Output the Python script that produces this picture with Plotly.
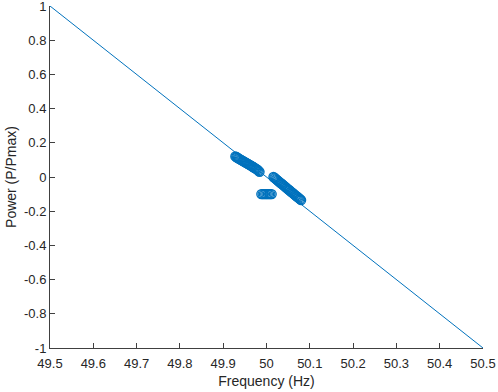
import plotly.graph_objects as go

# Droop characteristic line
line_f = [49.5, 50.5]
line_p = [1.0, -1.0]

# Cluster 1 of operating points
c1_f = [49.928, 49.930, 49.932, 49.934, 49.936, 49.938, 49.940, 49.942, 49.944,
        49.946, 49.948, 49.950, 49.952, 49.954, 49.956, 49.958, 49.960, 49.962,
        49.964, 49.966, 49.968, 49.970, 49.972, 49.974, 49.976, 49.978, 49.980,
        49.982, 49.984]
c1_p = [0.120, 0.117, 0.114, 0.111, 0.108, 0.105, 0.102, 0.099, 0.096,
        0.093, 0.090, 0.087, 0.084, 0.081, 0.078, 0.075, 0.072, 0.069,
        0.066, 0.063, 0.060, 0.057, 0.054, 0.051, 0.048, 0.045, 0.040,
        0.035, 0.030]

# Cluster 2
c2_f = [50.016, 50.018, 50.020, 50.022, 50.024, 50.026, 50.028, 50.030, 50.032,
        50.034, 50.036, 50.038, 50.040, 50.042, 50.044, 50.046, 50.048, 50.050,
        50.052, 50.054, 50.056, 50.058, 50.060, 50.062, 50.064, 50.066, 50.068,
        50.070, 50.072, 50.074, 50.076, 50.078, 50.080]
c2_p = [0.000, -0.004, -0.008, -0.013, -0.017, -0.021, -0.025, -0.030, -0.034,
        -0.038, -0.042, -0.046, -0.051, -0.055, -0.059, -0.063, -0.068, -0.072,
        -0.076, -0.080, -0.085, -0.089, -0.093, -0.097, -0.101, -0.106, -0.110,
        -0.114, -0.118, -0.122, -0.127, -0.131, -0.135]

# Cluster 3 (horizontal)
c3_f = [49.988, 49.991, 49.994, 49.997, 50.000, 50.003, 50.006, 50.009, 50.012]
c3_p = [-0.1, -0.1, -0.1, -0.1, -0.1, -0.1, -0.1, -0.1, -0.1]

x_ticks = [49.5, 49.6, 49.7, 49.8, 49.9, 50.0, 50.1, 50.2, 50.3, 50.4, 50.5]
x_labels = ["49.5", "49.6", "49.7", "49.8", "49.9", "50", "50.1", "50.2", "50.3", "50.4", "50.5"]
y_ticks = [1, 0.8, 0.6, 0.4, 0.2, 0, -0.2, -0.4, -0.6, -0.8, -1]
y_labels = ["1", "0.8", "0.6", "0.4", "0.2", "0", "-0.2", "-0.4", "-0.6", "-0.8", "-1"]

blue = "#0072BD"
font_family = "Liberation Sans, Arial"
fig = go.Figure()
fig.add_trace(go.Scatter(x=line_f, y=line_p, mode="lines",
                         line=dict(color=blue, width=1), showlegend=False))
for fx, py in [(c1_f, c1_p), (c2_f, c2_p), (c3_f, c3_p)]:
    fig.add_trace(go.Scatter(x=fx, y=py, mode="markers", showlegend=False,
                             marker=dict(symbol="circle-open", size=9,
                                         color=blue, line=dict(width=1.3, color=blue))))

axis_common = dict(showline=True, linecolor="#404040", linewidth=1, mirror=False,
                   ticks="inside", ticklen=5, tickcolor="#404040", showgrid=False,
                   zeroline=False, automargin=False, ticklabeloverflow="allow",
                   tickfont=dict(family=font_family, size=13, color="#262626"))
fig.update_xaxes(range=[49.5, 50.5], tickvals=x_ticks, ticktext=x_labels,
                 ticklabelstandoff=3,
                 title=dict(text="Frequency (Hz)", font=dict(family=font_family, size=14, color="#262626"), standoff=6),
                 **axis_common)
fig.update_yaxes(range=[-1, 1], tickvals=y_ticks, ticktext=y_labels,
                 title=dict(text="Power (P/Pmax)", font=dict(family=font_family, size=14, color="#262626"), standoff=4),
                 **axis_common)
fig.update_layout(width=498, height=392, margin=dict(l=50, r=15, t=6, b=44),
                  plot_bgcolor="white", paper_bgcolor="white")
fig.write_html("out.html", config={"displayModeBar": False},
               post_script="document.body.style.margin='0';document.body.style.overflow='hidden';")
